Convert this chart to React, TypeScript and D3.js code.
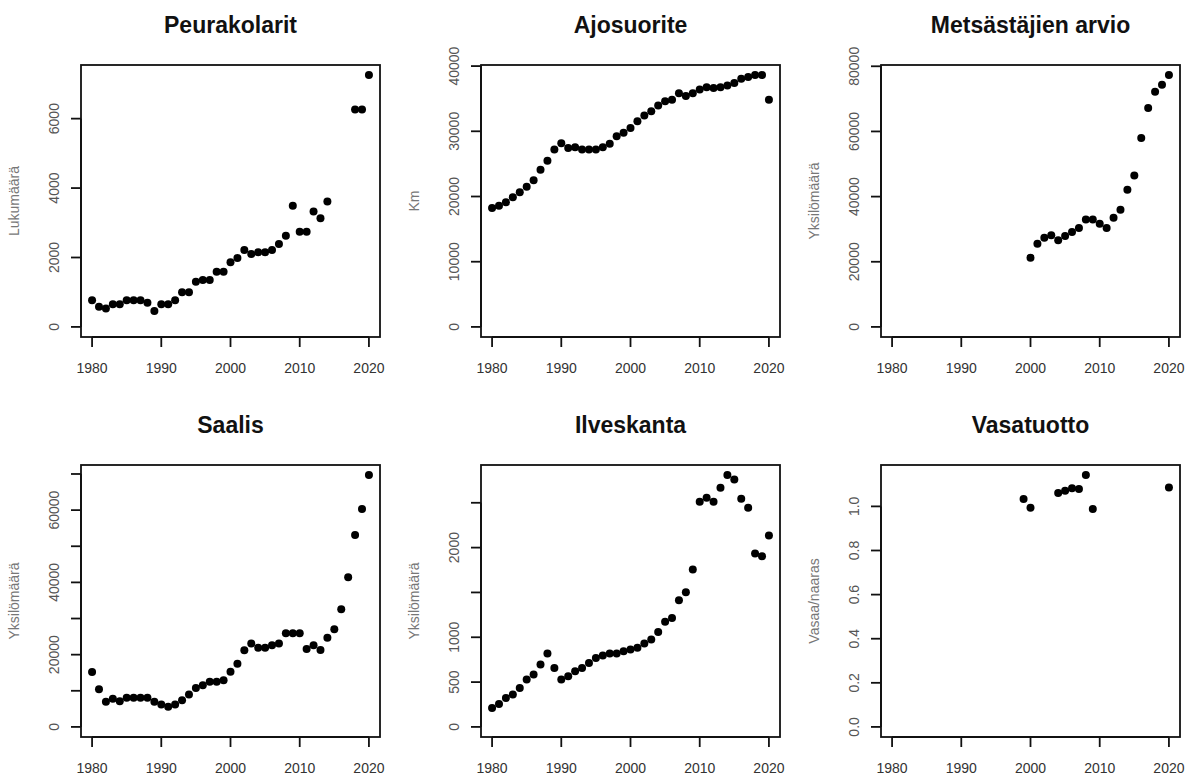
import React, { useEffect, useRef } from 'react';
import * as d3 from 'd3';

const years = [
    1980, 1981, 1982, 1983, 1984, 1985, 1986, 1987, 1988, 1989,
    1990, 1991, 1992, 1993, 1994, 1995, 1996, 1997, 1998, 1999,
    2000, 2001, 2002, 2003, 2004, 2005, 2006, 2007, 2008, 2009,
    2010, 2011, 2012, 2013, 2014, 2015, 2016, 2017, 2018, 2019, 2020
];

const peurakolarit = [
    770, 580, 530, 655, 655, 770, 770, 770, 700, 460,
    655, 655, 770, 1000, 1000, 1300, 1350, 1350, 1590, 1590,
    1860, 1985, 2215, 2100, 2150, 2150, 2215, 2390, 2630, 3490,
    2745, 2745, 3325, 3130, 3615, null, null, null, 6260, 6260, 7255
];

const ajosuorite = [
    18230, 18600, 19100, 19870, 20640, 21500, 22500, 24100, 25500, 27200,
    28170, 27450, 27550, 27200, 27200, 27200, 27550, 28070, 29240, 29760,
    30520, 31550, 32420, 33080, 33960, 34620, 34830, 35850, 35400, 35850,
    36400, 36770, 36620, 36770, 37030, 37390, 38050, 38310, 38620, 38620, 34830
];

const metsastajienArvio = [
    null, null, null, null, null, null, null, null, null, null,
    null, null, null, null, null, null, null, null, null, null,
    21250, 25500, 27400, 28100, 26600, 27900, 29100, 30400, 33000, 33000,
    31700, 30400, 33500, 36000, 42100, 46500, 58000, 67200, 72200, 74300, 77300
];

const saalis = [
    15200, 10400, 6940, 7770, 7120, 8050, 8050, 8050, 8050, 6940,
    6200, 5550, 6200, 7400, 9000, 10800, 11500, 12500, 12500, 12950,
    15260, 17500, 21200, 23100, 21900, 21900, 22600, 23100, 25900, 25900,
    25900, 21600, 22600, 21300, 24700, 27000, 32600, 41400, 53100, 60300, 69700
];

const ilveskanta = [
    212, 257, 324, 361, 435, 528, 584, 696, 818, 658,
    528, 565, 621, 658, 714, 770, 796, 818, 818, 845,
    863, 882, 930, 975, 1060, 1172, 1216, 1414, 1503, 1756,
    2511, 2556, 2511, 2667, 2809, 2760, 2545, 2444, 1935, 1905, 2135
];

const vasatuotto = [
    null, null, null, null, null, null, null, null, null, null,
    null, null, null, null, null, null, null, null, null, 1.033,
    0.994, null, null, null, 1.061, 1.071, 1.082, 1.079, 1.142, 0.988,
    null, null, null, null, null, null, null, null, null, null, 1.086
];

const titles = ['Peurakolarit', 'Ajosuorite', 'Metsästäjien arvio', 'Saalis', 'Ilveskanta', 'Vasatuotto'];
const yLabels = ['Lukumäärä', 'Km', 'Yksilömäärä', 'Yksilömäärä', 'Yksilömäärä', 'Vasaa/naaras'];

const FONT = '"Liberation Sans", Arial, Helvetica, sans-serif';

// R:n tapaan 4 % lisää akselin molempiin päihin
const extend = ([lo, hi]: number[]) => {
    const d = (hi - lo) * 0.04;
    return [lo - d, hi + d];
};

// R:n GEPretty-tyyppinen tikkiväli
function prettyTicks(lo: number, hi: number, n = 5) {
    const cell = (hi - lo) / n;
    const U = Math.pow(10, Math.floor(Math.log10(cell)));
    let unit = U;
    if (2 * U - cell < 0.8 * (cell - unit)) {
        unit = 2 * U;
        if (5 * U - cell < 1.7 * (cell - unit)) {
            unit = 5 * U;
            if (10 * U - cell < 0.8 * (cell - unit)) unit = 10 * U;
        }
    }
    const start = Math.ceil(lo / unit - 1e-9);
    const end = Math.floor(hi / unit + 1e-9);
    return { unit, ticks: d3.range(start, end + 1).map(k => +(k * unit).toFixed(10)) };
}

const App = () => {
    const svgRef = useRef<SVGSVGElement>(null);

    useEffect(() => {
        const svg = d3.select(svgRef.current);
        svg.selectAll('*').remove();

        const series = [peurakolarit, ajosuorite, metsastajienArvio, saalis, ilveskanta, vasatuotto];
        const plotW = 299;
        const plotH = 272;
        const tickLen = 10;
        const fontSize = 14;
        const minGap = 15;

        series.forEach((values, i) => {
            const col = i % 3;
            const row = Math.floor(i / 3);
            const left = 81 + col * 400;
            const top = 65 + row * 400;

            const xDomain = extend(d3.extent(years) as number[]);
            const x = d3.scaleLinear().domain(xDomain).range([left, left + plotW]);
            const yMax = d3.max(values.filter(v => v != null) as number[]) as number;
            const yDomain = extend([0, yMax]);
            const y = d3.scaleLinear().domain(yDomain).range([top + plotH, top]);

            const g = svg.append('g').attr('class', 'panel');

            // Otsikko
            g.append('text')
                .attr('x', left + plotW / 2)
                .attr('y', top - 32)
                .attr('text-anchor', 'middle')
                .style('font-family', FONT)
                .style('font-size', '23px')
                .style('font-weight', 'bold')
                .style('fill', '#111')
                .text(titles[i]);

            // Pisteet
            const pts = years
                .map((yr, j) => ({ yr, v: values[j] }))
                .filter(d => d.v != null);

            g.selectAll('circle')
                .data(pts)
                .enter()
                .append('circle')
                .attr('cx', d => x(d.yr))
                .attr('cy', d => y(d.v as number))
                .attr('r', 4)
                .attr('fill', '#000');

            // Laatikko
            g.append('rect')
                .attr('x', left)
                .attr('y', top)
                .attr('width', plotW)
                .attr('height', plotH)
                .attr('fill', 'none')
                .attr('stroke', '#111')
                .attr('stroke-width', 1.8);

            // X-akseli
            const xt = prettyTicks(xDomain[0], xDomain[1]);
            const bottom = top + plotH;
            g.append('line')
                .attr('x1', x(xt.ticks[0])).attr('x2', x(xt.ticks[xt.ticks.length - 1]))
                .attr('y1', bottom).attr('y2', bottom)
                .attr('stroke', '#111').attr('stroke-width', 1.8);
            xt.ticks.forEach(t => {
                g.append('line')
                    .attr('x1', x(t)).attr('x2', x(t))
                    .attr('y1', bottom).attr('y2', bottom + tickLen)
                    .attr('stroke', '#111').attr('stroke-width', 1.8);
                g.append('text')
                    .attr('x', x(t))
                    .attr('y', bottom + 35.5)
                    .attr('text-anchor', 'middle')
                    .style('font-family', FONT)
                    .style('font-size', fontSize + 'px')
                    .style('fill', '#333')
                    .text(String(t));
            });

            // Y-akseli
            const yt = prettyTicks(yDomain[0], yDomain[1]);
            const fmt = yt.unit < 1 ? d3.format('.1f') : d3.format('d');
            g.append('line')
                .attr('x1', left).attr('x2', left)
                .attr('y1', y(yt.ticks[0])).attr('y2', y(yt.ticks[yt.ticks.length - 1]))
                .attr('stroke', '#111').attr('stroke-width', 1.8);

            let lastEnd = Infinity;
            yt.ticks.forEach(t => {
                g.append('line')
                    .attr('x1', left - tickLen).attr('x2', left)
                    .attr('y1', y(t)).attr('y2', y(t))
                    .attr('stroke', '#111').attr('stroke-width', 1.8);

                const label = fmt(t);
                const half = label.length * fontSize * 0.556 / 2;
                const pos = y(t);
                // jätetään päällekkäiset tekstit pois kuten R
                if (pos + half > lastEnd - minGap) return;
                lastEnd = pos - half;
                g.append('text')
                    .attr('transform', `translate(${left - 22},${pos}) rotate(-90)`)
                    .attr('text-anchor', 'middle')
                    .style('font-family', FONT)
                    .style('font-size', fontSize + 'px')
                    .style('fill', '#555')
                    .text(label);
            });

            g.append('text')
                .attr('transform', `translate(${left - 62},${top + plotH / 2}) rotate(-90)`)
                .attr('text-anchor', 'middle')
                .style('font-family', FONT)
                .style('font-size', '14px')
                .style('fill', '#777')
                .text(yLabels[i]);
        });
    }, []);

    return (
        <svg
            ref={svgRef}
            width={1188}
            height={776}
            style={{ position: 'absolute', left: 0, top: 0, background: '#fff' }}
        />
    );
};

export default App;
